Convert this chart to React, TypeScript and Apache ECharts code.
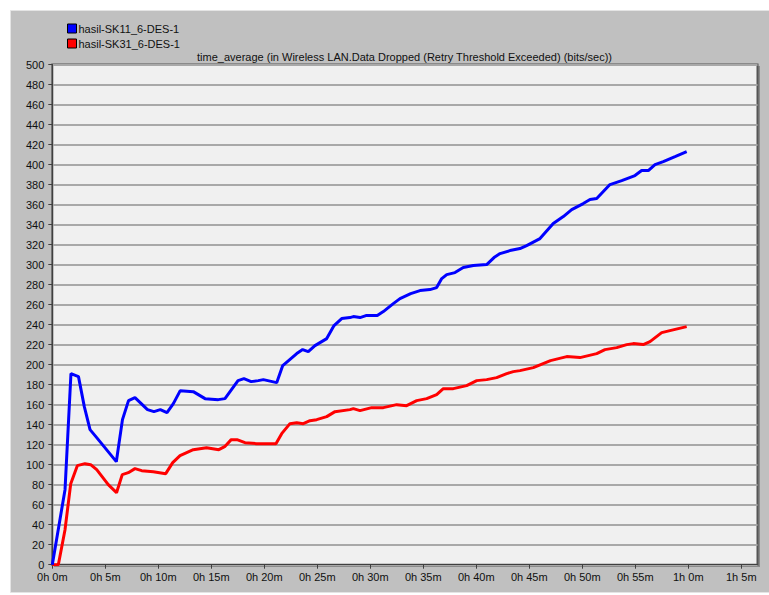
import React, { useEffect, useRef } from "react";
import * as echarts from "echarts";

const titleText =
  "time_average (in Wireless LAN.Data Dropped (Retry Threshold Exceeded) (bits/sec))";
const seriesNames = ["hasil-SK11_6-DES-1", "hasil-SK31_6-DES-1"];

// time in minutes
const blueTime = [
  0, 1.2, 1.76, 2.47, 3.02, 3.56, 4.19, 6.04, 6.62, 7.19, 7.8, 8.98, 9.59, 10.19,
  10.82, 11.42, 12.07, 13.3, 14.41, 15.66, 16.29, 17.52, 18.08, 18.76, 19.43, 19.91,
  21.17, 21.74, 23.06, 23.62, 24.15, 24.78, 25.89, 26.58, 27.3, 28.08, 28.4, 29.03,
  29.59, 30.66, 31.23, 32.17, 32.8, 33.81, 34.69, 35.63, 36.26, 36.74, 37.21, 37.99,
  38.77, 39.72, 40.98, 41.67, 42.24, 43.18, 44.12, 44.75, 46.01, 47.26, 48.21, 49.0,
  50.09, 50.73, 51.36, 52.61, 53.72, 54.97, 55.6, 56.23, 56.86, 57.64, 58.75, 59.85,
];
const blueValue = [
  0, 75, 191, 188, 158, 135, 127, 103, 145, 164, 167, 155, 153, 155,
  152, 161, 174, 173, 166, 165, 166, 184, 186, 183, 184, 185,
  182, 199, 211, 215, 213, 219, 226, 239, 246, 247, 248, 247,
  249, 249, 253, 261, 266, 271, 274, 275, 277, 286, 290, 292,
  297, 299, 300, 307, 311, 314, 316, 319, 326, 341, 348, 355,
  361, 365, 366, 380, 384, 389, 394, 394, 400, 403, 408, 413,
];

const redTime = [
  0, 0.57, 1.2, 1.74, 2.36, 3.08, 3.62, 4.19, 5.28, 6.06, 6.6, 7.17, 7.8, 8.43,
  9.53, 10.7, 11.36, 12.05, 13.3, 14.55, 15.71, 16.26, 16.88, 17.42, 18.18, 19.28,
  21.1, 21.64, 22.42, 23.06, 23.68, 24.31, 24.94, 25.89, 26.67, 28.08, 28.4, 29.03,
  30.13, 31.23, 32.49, 33.43, 34.38, 35.32, 36.26, 36.89, 37.83, 39.09, 40.04, 40.98,
  41.92, 42.87, 43.49, 44.12, 45.38, 47.0, 48.53, 49.78, 51.36, 52.14, 53.25, 54.19,
  54.81, 55.75, 56.39, 57.49, 58.27, 59.06, 59.85,
];
const redValue = [
  0, 0, 35, 81, 99, 101, 100, 95, 80, 72, 90, 92, 96, 94,
  93, 91, 102, 109, 115, 117, 115, 118, 125, 125, 122, 121,
  121, 131, 141, 142, 141, 144, 145, 148, 153, 155, 156, 154,
  157, 157, 160, 159, 164, 166, 170, 176, 176, 179, 184, 185,
  187, 191, 193, 194, 197, 204, 208, 207, 211, 215, 217, 220,
  221, 220, 223, 232, 234, 236, 238,
];

const xTickMinutes = [0, 5, 10, 15, 20, 25, 30, 35, 40, 45, 50, 55, 60, 65];

const FONT = "Liberation Sans, Arial, sans-serif";

function fmtTime(v: number): string {
  const r = Math.round(v);
  if (Math.abs(v - r) > 1e-6 || !xTickMinutes.includes(r)) return "";
  return `${Math.floor(r / 60)}h ${r % 60}m`;
}

export default function App() {
  const ref = useRef<HTMLDivElement>(null);
  useEffect(() => {
    if (!ref.current) return;
    const chart = echarts.init(ref.current, null, { renderer: "svg" });
    const blueData = blueTime.map((t, i) => [t, blueValue[i]]);
    const redData = redTime.map((t, i) => [t, redValue[i]]);
    const axisDark = "#404040";
    chart.setOption({
      animation: false,
      backgroundColor: "#ffffff",
      textStyle: { fontFamily: FONT },
      graphic: [
        {
          type: "rect",
          z: -100,
          silent: true,
          shape: { x: 10.5, y: 10.5, width: 770, height: 582 },
          style: { fill: "#c0c0c0", stroke: "#e4e4e4", lineWidth: 1 },
        },
        {
          type: "rect",
          z: -50,
          silent: true,
          shape: { x: 54, y: 66, width: 706, height: 501 },
          style: { fill: "#8a8a8a" },
        },
        {
          type: "text",
          x: 404.5,
          y: 57,
          silent: true,
          style: {
            text: titleText,
            align: "center",
            verticalAlign: "middle",
            textAlign: "center",
            textVerticalAlign: "middle",
            font: `11px ${FONT}`,
            fill: "#101010",
          },
        },
      ],
      legend: {
        orient: "vertical",
        left: 62,
        top: 18,
        itemWidth: 9,
        itemHeight: 9,
        itemGap: 4,
        icon: "rect",
        textStyle: { fontSize: 11, color: "#101010", fontFamily: FONT, padding: [0, 0, 0, -3] },
        data: seriesNames.map((n, i) => ({
          name: n,
          itemStyle: {
            color: i === 0 ? "#0000ff" : "#ff0000",
            borderColor: "#000000",
            borderWidth: 1,
          },
        })),
      },
      grid: {
        left: 52.3,
        top: 64.5,
        right: 11.5,
        bottom: 30.3,
        show: true,
        backgroundColor: "#f0f0f0",
        borderColor: "#555555",
        borderWidth: 2,
      },
      xAxis: {
        type: "value",
        min: 0,
        max: 66.53,
        interval: 5,
        axisLine: { show: true, onZero: false, lineStyle: { color: axisDark, width: 1 } },
        axisTick: { show: true, length: 4, lineStyle: { color: axisDark } },
        axisLabel: {
          show: true,
          formatter: (v: number) => fmtTime(v),
          fontSize: 11,
          color: "#101010",
          fontFamily: FONT,
          margin: 7,
          showMaxLabel: false,
        },
        splitLine: { show: false },
      },
      yAxis: {
        type: "value",
        min: 0,
        max: 500,
        interval: 20,
        axisLine: { show: true, lineStyle: { color: axisDark, width: 1 } },
        axisTick: { show: true, length: 4, lineStyle: { color: axisDark } },
        axisLabel: {
          fontSize: 11,
          color: "#101010",
          fontFamily: FONT,
          margin: 8,
        },
        splitLine: { show: true, lineStyle: { color: "#a8a8a8", width: 2 } },
      },
      series: [
        {
          name: seriesNames[0],
          type: "line",
          data: blueData,
          showSymbol: false,
          symbol: "none",
          lineStyle: { color: "#0000ff", width: 3 },
          itemStyle: { color: "#0000ff" },
          z: 3,
        },
        {
          name: seriesNames[1],
          type: "line",
          data: redData,
          showSymbol: false,
          symbol: "none",
          lineStyle: { color: "#ff0000", width: 3 },
          itemStyle: { color: "#ff0000" },
          z: 2,
        },
      ],
    });
    return () => chart.dispose();
  }, []);
  return (
    <div
      ref={ref}
      style={{ position: "fixed", left: 0, top: 0, width: 769, height: 595 }}
    />
  );
}
